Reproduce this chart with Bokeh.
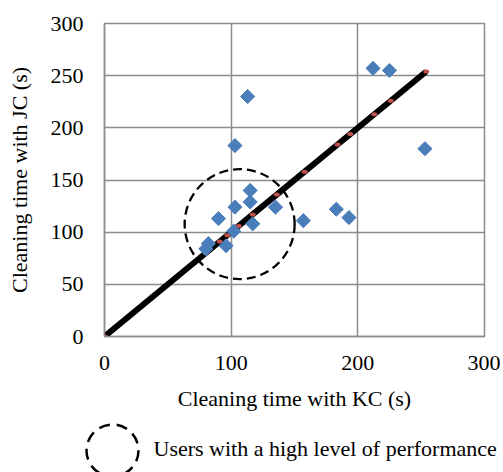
import numpy as np
from bokeh.plotting import figure
from bokeh.models import FixedTicker, Range1d
from bokeh.core.properties import value
from bokeh.embed import file_html
from bokeh.resources import INLINE

# Data
kc_time = [212, 225, 113, 103, 253, 115, 115, 103, 135, 183, 193, 90, 157, 117, 102, 82, 80, 96]
jc_time = [257, 255, 230, 183, 180, 140, 129, 124, 124, 122, 114, 113, 111, 108, 101, 89, 84, 87]
ref_line_x = [0, 80, 91, 97, 106, 117, 136, 158, 184, 194, 213, 226, 254]
ref_line_y = ref_line_x
group_center_x = [106.7]
group_center_y = [107.7]
x_ticks = [0, 100, 200, 300]
y_ticks = [0, 50, 100, 150, 200, 250, 300]
legend_text = ["Users with a high level of performance"]

FONT = "Liberation Serif"
GRID = "#8c8c8c"
BLUE = "#4a7ebb"
RED = "#c0504d"

p = figure(width=500, height=420, output_backend="svg", toolbar_location=None,
           x_range=Range1d(0, 300), y_range=Range1d(0, 300),
           min_border_left=104, min_border_right=16, min_border_top=23, min_border_bottom=84)
p.background_fill_color = "white"
p.border_fill_color = "white"
p.outline_line_color = GRID
p.outline_line_width = 1.5

p.xaxis.ticker = FixedTicker(ticks=x_ticks)
p.yaxis.ticker = FixedTicker(ticks=y_ticks)
p.xgrid.ticker = FixedTicker(ticks=x_ticks)
p.ygrid.ticker = FixedTicker(ticks=y_ticks)
for g in (p.xgrid, p.ygrid):
    g.grid_line_color = GRID
    g.grid_line_width = 1.5
for ax in (p.xaxis, p.yaxis):
    ax.axis_line_color = GRID
    ax.axis_line_width = 1.5
    ax.major_tick_line_color = None
    ax.minor_tick_line_color = None
    ax.major_tick_out = 0
    ax.major_tick_in = 0
    ax.minor_tick_out = 0
    ax.major_label_text_font = FONT
    ax.major_label_text_font_size = "22px"
    ax.major_label_text_color = "black"
    ax.axis_label_text_font = FONT
    ax.axis_label_text_font_size = "22px"
    ax.axis_label_text_font_style = "normal"
    ax.axis_label_text_color = "black"
p.xaxis.axis_label = "Cleaning time with KC (s)"
p.yaxis.axis_label = "Cleaning time with JC (s)"
p.xaxis.major_label_standoff = 19
p.yaxis.major_label_standoff = 21
p.xaxis.axis_label_standoff = 13
p.yaxis.axis_label_standoff = 16

# reference line y = x
p.line(ref_line_x, ref_line_y, line_color="black", line_width=6)
p.ellipse(ref_line_x, ref_line_y, width=6, height=4, width_units="screen",
          height_units="screen", fill_color=RED, line_color=None)

# data points
p.scatter(kc_time, jc_time, marker="square", angle=np.pi / 4, size=10,
          fill_color=BLUE, line_color=BLUE)

# dashed circle of high performers
p.scatter(group_center_x, group_center_y, marker="circle", size=110,
          fill_color=None, line_color="black", line_width=2.3, line_dash="9 5")

# legend strip (separate root, pixel-like coordinates)
leg = figure(width=500, height=52, output_backend="svg", toolbar_location=None,
             x_range=Range1d(0, 500), y_range=Range1d(0, 52),
             min_border=0, outline_line_color=None)
leg.axis.visible = False
leg.grid.visible = False
leg.scatter([112], [22], marker="circle", size=52, fill_color=None,
            line_color="black", line_width=2.5, line_dash="11 7")
leg.text([153], [24], text=legend_text, text_font=value(FONT), text_font_size="22px",
         text_baseline="middle", text_align="left", text_color="black")

open("out.html", "w").write(file_html([p, leg], INLINE))
